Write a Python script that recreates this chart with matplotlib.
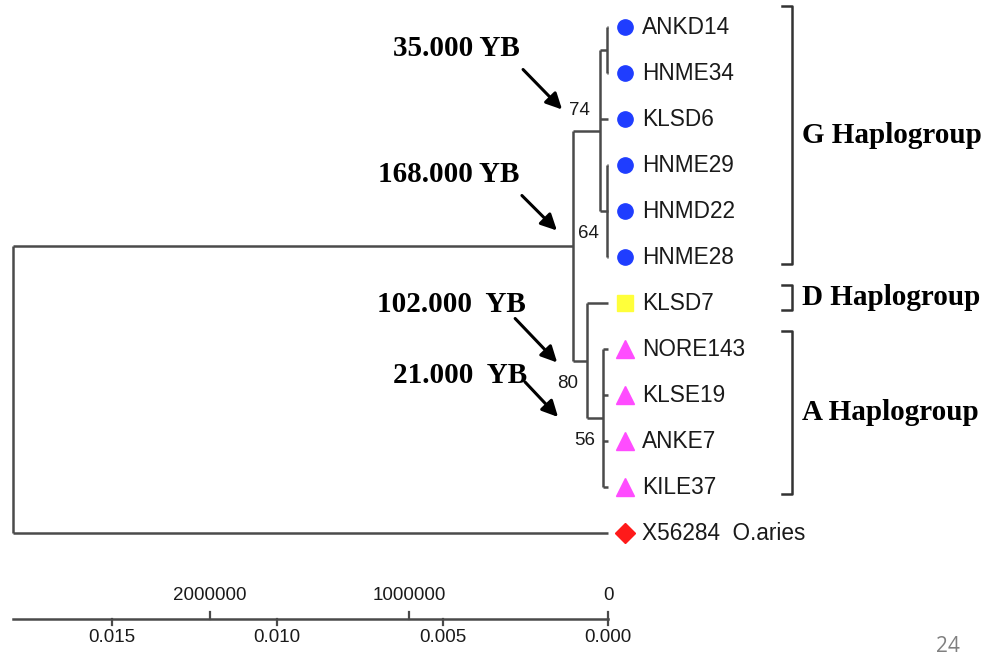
import matplotlib
matplotlib.use("Agg")
import matplotlib.pyplot as plt
from matplotlib.transforms import offset_copy

plt.rcParams["font.family"] = ["Liberation Sans", "DejaVu Sans"]

# leaves, top to bottom
leaf_names = ["ANKD14", "HNME34", "KLSD6", "HNME29", "HNMD22", "HNME28",
              "KLSD7", "NORE143", "KLSE19", "ANKE7", "KILE37", "X56284  O.aries"]
leaf_group = ["G", "G", "G", "G", "G", "G", "D", "A", "A", "A", "A", "O"]

# internal nodes: children and height (genetic distance from tips)
node_children = {
    "G1": ["ANKD14", "HNME34"],
    "G2": ["HNME29", "HNMD22", "HNME28"],
    "G": ["G1", "KLSD6", "G2"],
    "A": ["NORE143", "KLSE19", "ANKE7", "KILE37"],
    "DA": ["KLSD7", "A"],
    "ingroup": ["G", "DA"],
    "root": ["ingroup", "X56284  O.aries"],
}
node_height = {"G1": 0.00003, "G2": 0.00003, "G": 0.00024, "A": 0.00015,
               "DA": 0.00063, "ingroup": 0.00106, "root": 0.01798}
bootstrap = {"G": 74, "ingroup": 64, "DA": 80, "A": 56}

# scale bars
dist_ticks = [0.015, 0.010, 0.005, 0.000]
dist_labels = ["0.015", "0.010", "0.005", "0.000"]
year_ticks = [2000000, 1000000, 0]
dist_per_myr = 0.006012

# dating annotations (node, text)
dates = [("G", "35.000 YB"), ("ingroup", "168.000 YB"),
         ("DA", "102.000  YB"), ("A", "21.000  YB")]

haplogroups = [("G Haplogroup", 0, 5), ("D Haplogroup", 6, 6), ("A Haplogroup", 7, 10)]

markers = {"G": ("o", "#1f3dff", 11), "D": ("s", "#ffff3a", 12),
           "A": ("^", "#ff4cff", 13), "O": ("D", "#ff1a1a", 10)}

LINE = "#4a4a4a"

fig = plt.figure(figsize=(10, 6.55), dpi=100)
ax = fig.add_axes([0, 0, 1, 1])
ax.set_xlim(0.018369, -0.011843)
ax.set_ylim(13.652, -0.587)
ax.axis("off")

pos = {}
for i, name in enumerate(leaf_names):
    pos[name] = (0.0, float(i))


def place(node):
    if node in pos:
        return pos[node]
    ys = [place(c)[1] for c in node_children[node]]
    pos[node] = (node_height[node], (ys[0] + ys[-1]) / 2)
    return pos[node]


place("root")

for node, kids in node_children.items():
    x, y = pos[node]
    ys = [pos[c][1] for c in kids]
    ax.plot([x, x], [min(ys), max(ys)], color=LINE, lw=1.8, solid_capstyle="butt")
    for c in kids:
        cx, cy = pos[c]
        ax.plot([x, cx], [cy, cy], color=LINE, lw=1.8, solid_capstyle="butt")

# leaf markers and labels
for i, (name, g) in enumerate(zip(leaf_names, leaf_group)):
    m, col, ms = markers[g]
    ax.plot(-0.000514, i, marker=m, color=col, ms=ms, mec=col, ls="none")
    ax.text(-0.00103, i, name, fontsize=16.3, va="center", ha="left", color="#1a1a1a")

# bootstrap values (offsets in pixels)
bs_offset = {"G": (-10, 12, "right", "bottom"), "ingroup": (5, 4, "left", "bottom"),
             "DA": (-9, -14, "right", "top"), "A": (-8, -14, "right", "top")}
for node, val in bootstrap.items():
    dx, dy, ha, va = bs_offset[node]
    ax.annotate(str(val), xy=pos[node], xytext=(dx, dy), textcoords="offset pixels",
                fontsize=13.5, ha=ha, va=va, color="#1a1a1a")

# dating arrows
tip_off = {"G": (-38, 21), "ingroup": (-16, 15), "DA": (-30, -2), "A": (-45, 1)}
tail_off = {"G": (-39, 40), "ingroup": (-35, 35), "DA": (-42, 44), "A": (-33, 35)}
text_off = {"G": (-169, 61), "ingroup": (-179, 56), "DA": (-180, 58), "A": (-165, 42)}
for node, label in dates:
    tdx, tdy = tip_off[node]
    tr = offset_copy(ax.transData, fig=fig, x=tdx, y=tdy, units="dots")
    ax.annotate("", xy=pos[node], xycoords=tr, xytext=tail_off[node],
                textcoords="offset pixels",
                arrowprops=dict(arrowstyle="-|>", color="black", lw=2.2,
                                mutation_scale=24, shrinkA=0, shrinkB=0))
    ax.annotate(label, xy=pos[node], xycoords=tr, xytext=text_off[node],
                textcoords="offset pixels", fontsize=21, fontweight="bold",
                family="Liberation Serif", ha="left", va="center", color="black")

# haplogroup brackets
bx, bw = -0.00556, 0.0003
for label, i0, i1 in haplogroups:
    top = i0 - (0.45 if i0 == 0 else 0.4)
    bot = i1 + 0.15
    ax.plot([bx + bw, bx, bx, bx + bw], [top, top, bot, bot], color="#333333", lw=1.8)
    ax.text(bx - 0.0003, (top + bot) / 2, label, fontsize=21, fontweight="bold",
            family="Liberation Serif", ha="left", va="center", color="black")

# scale bar
sy = 12.87
ax.plot([node_height["root"], 0], [sy, sy], color=LINE, lw=1.8)
for t, lab in zip(dist_ticks, dist_labels):
    ax.plot([t, t], [sy, sy + 0.13], color=LINE, lw=1.6)
    ax.text(t, sy + 0.41, lab, fontsize=13.5, ha="center", va="center", color="#1a1a1a")
for yr in year_ticks:
    t = yr / 1e6 * dist_per_myr
    ax.plot([t, t], [sy, sy - 0.15], color=LINE, lw=1.6)
    ax.text(t, sy - 0.52, str(yr), fontsize=13.5, ha="center", va="center", color="#1a1a1a")

fig.text(0.948, 0.005, "24", fontsize=15, color="#808080", ha="center", va="baseline",
         family="Open Sans")

fig.savefig("out.png", dpi=100)
